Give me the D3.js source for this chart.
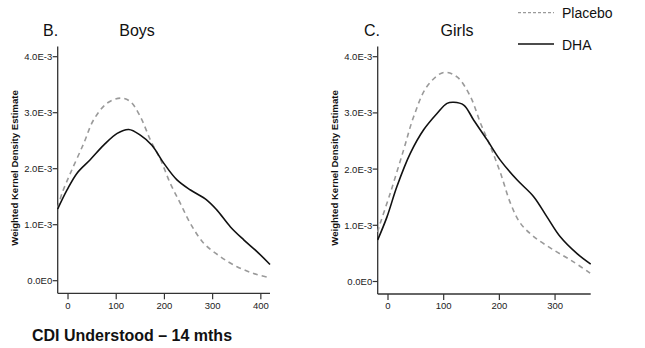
<!DOCTYPE html>
<html><head><meta charset="utf-8">
<script src="https://cdn.jsdelivr.net/npm/d3@7"></script>
<style>body{margin:0;background:#fff}svg{display:block}text{font-family:Arial,"Liberation Sans",sans-serif}</style>
</head><body><svg id="c" width="645" height="348"></svg>
<script>
// Boys (panel B) — density in units of 1E-3
const boysX        = [-21.4, -2, 18.7, 46, 74, 102, 126, 150, 174, 198.5, 226, 254, 288, 309, 337, 364.5, 392, 419];
const boysDHA      = [1.28, 1.62, 1.92, 2.16, 2.42, 2.63, 2.70, 2.60, 2.42, 2.10, 1.80, 1.62, 1.44, 1.26, 0.96, 0.73, 0.52, 0.29];
const boysPlaceboX = [-21.4, -12.4, 5, 32.5, 53, 81, 108.5, 129, 150, 171, 192, 212, 233, 254, 281.5, 316, 350.6, 385, 419];
const boysPlacebo  = [1.30, 1.56, 1.92, 2.45, 2.87, 3.17, 3.26, 3.20, 2.93, 2.51, 2.16, 1.74, 1.38, 1.02, 0.67, 0.43, 0.25, 0.13, 0.05];
// Girls (panel C)
const girlsX        = [-18.5, -1.8, 16, 40, 64, 88, 106, 118, 136, 154, 178, 201.6, 231.6, 261.6, 285.5, 309, 339, 364];
const girlsDHA      = [0.74, 1.15, 1.69, 2.28, 2.70, 2.99, 3.17, 3.19, 3.14, 2.87, 2.52, 2.16, 1.81, 1.51, 1.15, 0.80, 0.50, 0.31];
const girlsPlaceboX = [-18.5, -16.7, 4, 28, 46, 70, 100, 124, 148, 166, 184, 202, 220, 237.5, 261.6, 297.5, 333, 364];
const girlsPlacebo  = [0.88, 0.95, 1.57, 2.34, 2.93, 3.47, 3.72, 3.64, 3.29, 2.82, 2.40, 1.93, 1.39, 1.04, 0.80, 0.56, 0.35, 0.14];
// ticks
const yTicks = [0, 1, 2, 3, 4];
const yTickLabels = ["0.0E0", "1.0E-3", "2.0E-3", "3.0E-3", "4.0E-3"];
const boysXTicks = [0, 100, 200, 300, 400];
const girlsXTicks = [0, 100, 200, 300];
const panelLetters = ["B.", "C."];
const panelTitles = ["Boys", "Girls"];
const seriesNames = ["Placebo", "DHA"];
const yLabel = "Weighted Kernel Density Estimate";
const xLabel = "CDI Understood \u2013 14 mths";

const svg = d3.select("#c");
const panels = [
  {x0:57.7, x1:270, xd:[-21.4,419], xt:boysXTicks, dha:[boysX,boysDHA], pl:[boysPlaceboX,boysPlacebo], y0:280.7, yBot:293.3, ylab:14, letterX:43, titleX:137},
  {x0:377.7, x1:590.7, xd:[-18.5,364], xt:girlsXTicks, dha:[girlsX,girlsDHA], pl:[girlsPlaceboX,girlsPlacebo], y0:281.5, yBot:294, ylab:334, letterX:364, titleX:457}
];
panels.forEach((p,i)=>{
  const x = d3.scaleLinear().domain(p.xd).range([p.x0,p.x1]);
  const y = d3.scaleLinear().domain([0,4]).range([p.y0,56.7]);
  const g = svg.append("g");
  g.append("line").attr("x1",p.x0).attr("x2",p.x0).attr("y1",46.5).attr("y2",p.yBot).attr("stroke","#333").attr("stroke-width",1.3);
  g.append("line").attr("x1",p.x0).attr("x2",p.x1).attr("y1",p.yBot).attr("y2",p.yBot).attr("stroke","#333").attr("stroke-width",1.3);
  yTicks.forEach((t,k)=>{
    g.append("line").attr("x1",p.x0-5).attr("x2",p.x0).attr("y1",y(t)).attr("y2",y(t)).attr("stroke","#333").attr("stroke-width",1.2);
    g.append("text").attr("x",p.x0-5.5).attr("y",y(t)+3.5).attr("text-anchor","end").attr("font-size",9.5).attr("fill","#222").text(yTickLabels[k]);
  });
  p.xt.forEach(t=>{
    g.append("line").attr("x1",x(t)).attr("x2",x(t)).attr("y1",p.yBot).attr("y2",p.yBot+6).attr("stroke","#333").attr("stroke-width",1.2);
    g.append("text").attr("x",x(t)).attr("y",309).attr("text-anchor","middle").attr("font-size",9.5).attr("fill","#222").text(t);
  });
  g.append("text").attr("transform",`translate(${p.ylab+3.5},168) rotate(-90)`).attr("text-anchor","middle").attr("font-size",9.6).attr("font-weight","bold").attr("fill","#111").text(yLabel);
  g.append("text").attr("x",p.letterX).attr("y",36).attr("font-size",16).attr("fill","#111").text(panelLetters[i]);
  g.append("text").attr("x",p.titleX).attr("y",36).attr("text-anchor","middle").attr("font-size",16).attr("fill","#111").text(panelTitles[i]);
  const line = d3.line().x(d=>x(d[0])).y(d=>y(d[1])).curve(d3.curveCatmullRom.alpha(0.5));
  g.append("path").datum(d3.zip(p.pl[0],p.pl[1])).attr("d",line).attr("fill","none").attr("stroke","#9a9a9a").attr("stroke-width",1.6).attr("stroke-dasharray","5,4");
  g.append("path").datum(d3.zip(p.dha[0],p.dha[1])).attr("d",line).attr("fill","none").attr("stroke","#111").attr("stroke-width",1.6);
});
// legend
svg.append("line").attr("x1",518).attr("x2",554).attr("y1",12.7).attr("y2",12.7).attr("stroke","#9a9a9a").attr("stroke-width",1.3).attr("stroke-dasharray","3,2");
svg.append("text").attr("x",562).attr("y",17.5).attr("font-size",14).attr("fill","#111").text(seriesNames[0]);
svg.append("line").attr("x1",518).attr("x2",554).attr("y1",44).attr("y2",44).attr("stroke","#111").attr("stroke-width",1.5);
svg.append("text").attr("x",562).attr("y",49.5).attr("font-size",14).attr("fill","#111").text(seriesNames[1]);
// x label
svg.append("text").attr("x",32).attr("y",341).attr("font-size",16).attr("font-weight","bold").attr("fill","#111").text(xLabel);
</script></body></html>
